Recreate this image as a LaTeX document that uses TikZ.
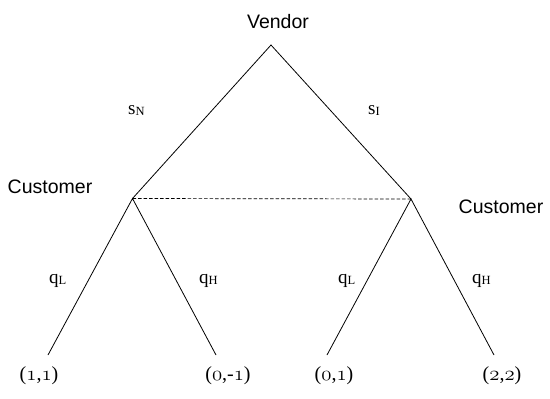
\documentclass[tikz,border=0pt]{standalone}
\usepackage{fontspec}
\setmainfont{Liberation Serif}
\newfontfamily\playerfont{Liberation Sans}
% lowered small letter after an action symbol
\newcommand\actsub[1]{\raisebox{-1.5pt}{\fontsize{12.5}{14}\selectfont #1}}
% old-style figures from the math italic font
\newcommand\osn[1]{\(\mathnormal{#1}\)}
\begin{document}
\begin{tikzpicture}[x=1pt,y=-1pt,
  branch/.style={line width=0.8pt},
  info/.style={line width=0.7pt, dash pattern=on 3.5pt off 2pt},
  player/.style={font=\playerfont\fontsize{19.5}{22}\selectfont, inner sep=0pt, anchor=base},
  act/.style={font=\fontsize{19}{22}\selectfont, inner sep=0pt, anchor=base west},
  pay/.style={font=\fontsize{20}{24}\selectfont, inner sep=0pt, anchor=base}]
\useasboundingbox (0,0) rectangle (550,399);

% decision points of the tree
\coordinate (root) at (271,45);
\coordinate (cl) at (132.5,198.5);
\coordinate (cr) at (411,199);
\coordinate (l1) at (48,355);
\coordinate (l2) at (216,355);
\coordinate (l3) at (327,355);
\coordinate (l4) at (494,355);

% branches
\draw[branch] (cl) -- (root) -- (cr);
\draw[branch] (l1) -- (cl) -- (l2);
\draw[branch] (l3) -- (cr) -- (l4);
% information set
\draw[info] (cl) -- (cr);

% players
\node[player] (vendor) at (278,28) {Vendor};
\node[player] (custL) at (50,193) {Customer};
\node[player] (custR) at (501,213) {Customer};

% vendor's actions
\node[act] (sN) at (128,114) {s\actsub{N}};
\node[act] (sI) at (368,114) {s\actsub{I}};

% customer's actions
\node[act] (qL1) at (49,283) {q\actsub{L}};
\node[act] (qH1) at (199,283) {q\actsub{H}};
\node[act] (qL2) at (338,283) {q\actsub{L}};
\node[act] (qH2) at (472,283) {q\actsub{H}};

% payoffs
\node[pay] (p1) at (39,380) {(\osn{1},\osn{1})};
\node[pay] (p2) at (228,380) {(\osn{0},-\osn{1})};
\node[pay] (p3) at (334,380) {(\osn{0},\osn{1})};
\node[pay] (p4) at (502,380) {(\osn{2},\osn{2})};
\end{tikzpicture}
\end{document}
